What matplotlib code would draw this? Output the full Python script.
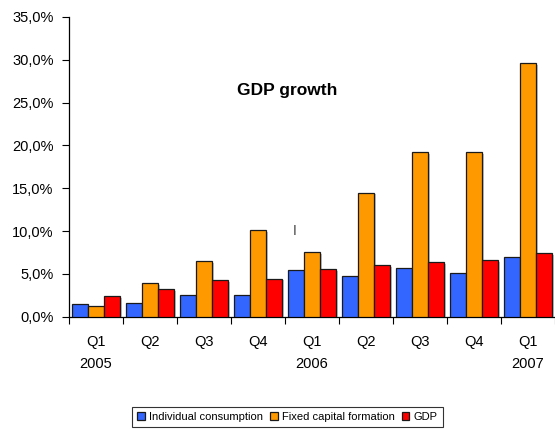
import numpy as np
import matplotlib
matplotlib.use('Agg')
import matplotlib.pyplot as plt
import matplotlib.patheffects as pe
from matplotlib.ticker import FuncFormatter

plt.rcParams['font.family'] = ['Liberation Sans', 'DejaVu Sans']

quarters = ['Q1\n2005', 'Q2', 'Q3', 'Q4', 'Q1\n2006', 'Q2', 'Q3', 'Q4', 'Q1\n2007']
consumption = [1.45, 1.6, 2.5, 2.5, 5.4, 4.75, 5.7, 5.1, 6.95]
capital = [1.25, 3.95, 6.45, 10.1, 7.55, 14.5, 19.2, 19.2, 29.6]
gdp = [2.4, 3.2, 4.3, 4.45, 5.55, 6.0, 6.35, 6.6, 7.45]

series = [
    ('Individual consumption', consumption, '#3366FF'),
    ('Fixed capital formation', capital, '#FF9900'),
    ('GDP', gdp, '#FF0000'),
]

fig = plt.figure(figsize=(5.55, 4.29), dpi=100)
ax = fig.add_axes([0.1243, 0.2618, 0.8757, 0.6986])

x = np.arange(len(quarters))
w = 0.296
shadow = [pe.SimplePatchShadow(offset=(1.2, -1.2), shadow_rgbFace='#999999', alpha=0.6), pe.Normal()]
for i, (name, vals, col) in enumerate(series):
    bars = ax.bar(x + (i - 1) * w, vals, width=w, color=col, edgecolor='#1a1a1a',
                  linewidth=0.9, label=name, zorder=3)
    for b in bars:
        b.set_path_effects(shadow)

ax.set_xlim(-0.5, len(quarters) - 0.5)
ax.set_ylim(0, 35)
ax.set_yticks(np.arange(0, 36, 5))
ax.yaxis.set_major_formatter(FuncFormatter(lambda v, p: f'{v:.1f}%'.replace('.', ',')))

ax.set_xticks(np.arange(-0.5, len(quarters), 1.0))
ax.set_xticklabels([])
ax.set_xticks(x, minor=True)
ax.set_xticklabels(quarters, minor=True, linespacing=1.65)
ax.tick_params(axis='x', which='major', direction='out', length=5, width=0.8, color='black')
ax.tick_params(axis='x', which='minor', length=0, pad=13.5, labelsize=10.5)
ax.tick_params(axis='y', direction='out', length=5, width=0.8, pad=6, labelsize=10.5)

for s in ['top', 'right']:
    ax.spines[s].set_visible(False)
for s in ['left', 'bottom']:
    ax.spines[s].set_linewidth(0.9)
    ax.spines[s].set_color('black')

fig.text(287 / 555, 1 - 91 / 429, 'GDP growth', fontsize=12.5, fontweight='bold',
         ha='center', va='center')
fig.text(295 / 555, 1 - 231 / 429, 'I', fontsize=10, color='#444444', ha='center', va='center')

leg = fig.legend(loc='upper left', bbox_to_anchor=(132 / 555, 1 - 407 / 429), ncol=3,
                 fontsize=8.0, frameon=True, fancybox=False, edgecolor='black',
                 handlelength=0.7, handleheight=0.7, handletextpad=0.4, columnspacing=0.6,
                 borderpad=0.45, borderaxespad=0)
leg.get_frame().set_linewidth(0.8)
for h in leg.legend_handles:
    h.set_path_effects([])

fig.savefig('out.png', dpi=100)
